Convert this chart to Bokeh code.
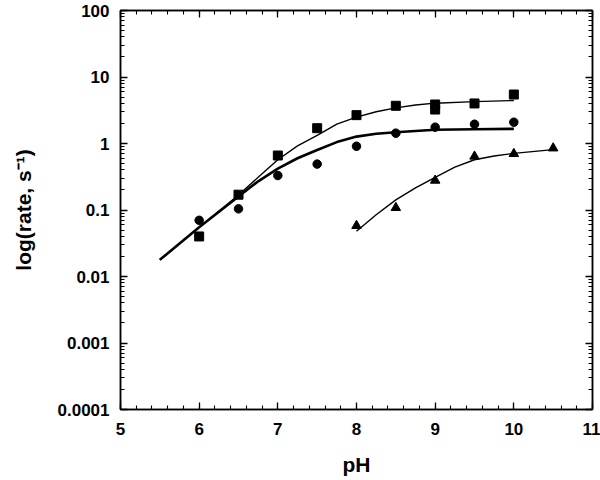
from bokeh.plotting import figure
from bokeh.models import LinearAxis, LogAxis, FixedTicker, SingleIntervalTicker, CustomJSTickFormatter
from bokeh.embed import file_html
from bokeh.resources import INLINE

# ---- data ----
ph_sq = [6.0, 6.5, 7.0, 7.5, 8.0, 8.5, 9.0, 9.0, 9.5, 10.0]
rate_sq = [0.040, 0.17, 0.66, 1.70, 2.67, 3.69, 3.24, 3.86, 4.0, 5.45]

ph_ci = [6.0, 6.5, 7.0, 7.5, 8.0, 8.5, 9.0, 9.5, 10.0]
rate_ci = [0.070, 0.104, 0.33, 0.49, 0.91, 1.43, 1.76, 1.95, 2.09]

ph_tr = [8.0, 8.5, 9.0, 9.5, 10.0, 10.5]
rate_tr = [0.058, 0.108, 0.278, 0.64, 0.70, 0.85]

# fitted curves
fit_sq_x = [5.5, 6.0, 6.5, 6.75, 7.0, 7.25, 7.5, 7.75, 8.0, 8.25, 8.5, 8.75, 9.0, 9.5, 10.0]
fit_sq_y = [0.0178, 0.055, 0.168, 0.31, 0.57, 0.92, 1.32, 1.95, 2.49, 3.0, 3.44, 3.8, 4.04, 4.27, 4.43]

fit_ci_x = [5.5, 6.0, 6.5, 6.75, 7.0, 7.25, 7.5, 7.75, 8.0, 8.25, 8.5, 9.0, 9.5, 10.0]
fit_ci_y = [0.0178, 0.055, 0.160, 0.27, 0.42, 0.60, 0.80, 1.05, 1.27, 1.40, 1.48, 1.61, 1.64, 1.66]

fit_tr_x = [8.0, 8.25, 8.5, 8.75, 9.0, 9.25, 9.5, 9.75, 10.0, 10.5]
fit_tr_y = [0.048, 0.085, 0.142, 0.215, 0.31, 0.44, 0.57, 0.65, 0.71, 0.81]

ytick_values = [1e-4, 1e-3, 1e-2, 1e-1, 1.0, 10.0, 100.0]
ytick_labels = ["0.0001", "0.001", "0.01", "0.1", "1", "10", "100"]

x_label = "pH"
y_label = "log(rate, s\u207b\u00b9)"

FONT = "Liberation Sans"

p = figure(width=600, height=480, x_range=(5, 11), y_range=(1e-4, 100),
           y_axis_type="log", output_backend="svg", toolbar_location=None,
           min_border_left=120, min_border_right=8, min_border_top=10,
           min_border_bottom=71)
p.xgrid.visible = False
p.ygrid.visible = False
p.outline_line_color = "black"
p.outline_line_width = 1.5
p.background_fill_color = "white"
p.border_fill_color = "white"

minor_y = [m * 10.0 ** k for k in range(-4, 2) for m in range(2, 10)]
yticker = FixedTicker(ticks=ytick_values, minor_ticks=minor_y)
xticker = SingleIntervalTicker(interval=1, num_minor_ticks=5)

def style(ax):
    ax.axis_line_color = "black"
    ax.axis_line_width = 1.5
    ax.major_tick_in = 7
    ax.major_tick_out = 0
    ax.minor_tick_in = 4
    ax.minor_tick_out = 0
    ax.major_tick_line_color = "black"
    ax.minor_tick_line_color = "black"
    ax.major_tick_line_width = 1.3
    ax.minor_tick_line_width = 1.1
    ax.major_label_text_font = FONT
    ax.major_label_text_font_style = "bold"
    ax.major_label_text_font_size = "17px"
    ax.major_label_text_color = "black"
    ax.axis_label_text_font = FONT
    ax.axis_label_text_font_style = "bold"
    ax.axis_label_text_font_size = "21px"
    ax.axis_label_text_color = "black"

xa = p.xaxis[0]
xa.ticker = xticker
style(xa)
xa.axis_label = x_label
xa.major_label_standoff = 13
xa.axis_label_standoff = 15

ya = p.yaxis[0]
ya.ticker = yticker
style(ya)
ya.major_label_overrides = {v: s for v, s in zip(ytick_values, ytick_labels)}
ya.axis_label = y_label
ya.major_label_standoff = 11
ya.axis_label_standoff = 20

blank = CustomJSTickFormatter(code="return ''")
top = LinearAxis(ticker=SingleIntervalTicker(interval=1, num_minor_ticks=5), formatter=blank)
style(top)
top.major_label_text_font_size = "0px"
top.major_label_standoff = 0
p.add_layout(top, "above")

right = LogAxis(ticker=FixedTicker(ticks=ytick_values, minor_ticks=minor_y), formatter=blank)
style(right)
right.major_label_text_font_size = "0px"
right.major_label_standoff = 0
p.add_layout(right, "right")

p.line(fit_sq_x, fit_sq_y, line_color="black", line_width=1.4)
p.line(fit_ci_x, fit_ci_y, line_color="black", line_width=2.6)
p.line(fit_tr_x, fit_tr_y, line_color="black", line_width=1.4)

p.scatter(ph_sq, rate_sq, marker="square", size=9, fill_color="black", line_color="black")
p.scatter(ph_ci, rate_ci, marker="circle", size=8.5, fill_color="black", line_color="black")
p.scatter(ph_tr, rate_tr, marker="triangle", size=9.5, fill_color="black", line_color="black")

open("out.html", "w").write(file_html(p, INLINE))
